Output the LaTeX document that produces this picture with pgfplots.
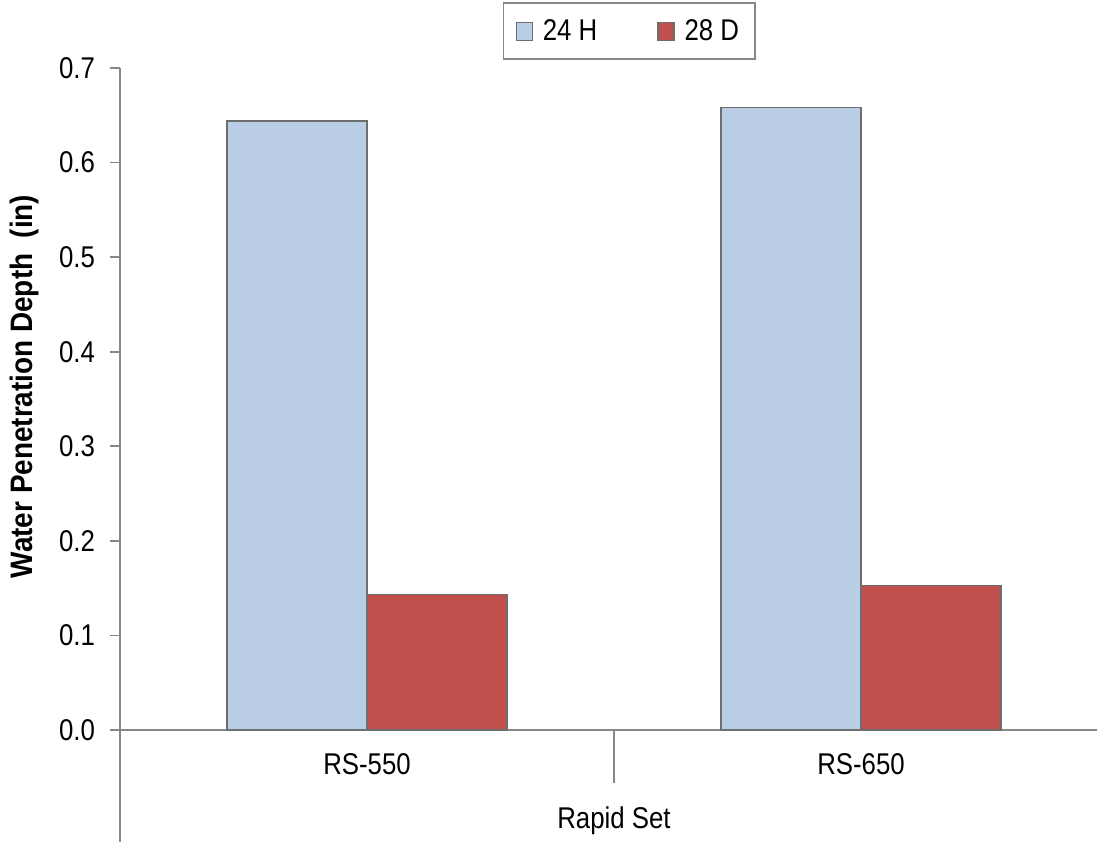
\documentclass[border=0pt]{standalone}
\usepackage{pgfplots}
\pgfplotsset{compat=1.18}
\usepackage{fontspec}
\setmainfont[FakeStretch=0.86]{Liberation Sans}
\newfontfamily\labfont[FakeStretch=0.9]{Liberation Sans}
\definecolor{axgray}{HTML}{878787}
\definecolor{barblue}{HTML}{B9CDE5}
\definecolor{barred}{HTML}{C0504D}
\definecolor{edgegray}{HTML}{6E6E6E}
\begin{document}
\begin{tikzpicture}
\begin{axis}[
  width=494pt, height=331pt, scale only axis,
  ymin=0, ymax=0.7,
  xmin=-0.5, xmax=1.5,
  axis lines*=left,
  axis line style={axgray, line width=0.8pt},
  ytick={0,0.1,0.2,0.3,0.4,0.5,0.6,0.7},
  yticklabel style={xshift=-4pt, /pgf/number format/.cd, fixed, fixed zerofill, precision=1, assume math mode=true},
  tick align=outside,
  major tick length=5pt,
  tick style={axgray, line width=0.8pt},
  xtick={0,1},
  xticklabels={RS-550,RS-650},
  x tick style={draw=none},
  xticklabel style={yshift=-3pt},
  tick label style={font=\fontsize{15}{17}\selectfont, black},
  ylabel={\labfont\bfseries Water Penetration Depth\ \ (in)},
  every axis y label/.style={at={(axis description cs:-0.097,0.519)}, rotate=90, anchor=center, font=\fontsize{15.5}{17}\selectfont},
  ybar=0pt, bar width=70pt,
  clip=false,
  legend columns=2,
  legend style={at={(rel axis cs:0.5155,1)}, anchor=south, yshift=4pt,
    draw=axgray, line width=0.8pt, font=\fontsize{15}{17}\selectfont,
    inner xsep=6pt, inner ysep=6pt,
    /tikz/every odd column/.append style={column sep=3pt},
    /tikz/every even column/.append style={column sep=28pt}},
  legend image code/.code={\draw[#1, line width=0.6pt] (0pt,-4.5pt) rectangle (8pt,4.5pt);},
]
\addplot[fill=barblue, draw=edgegray, line width=0.6pt] coordinates {(0,0.644) (1,0.658)};
\addplot[fill=barred, draw=edgegray, line width=0.6pt] coordinates {(0,0.143) (1,0.153)};
\legend{24 H, 28 D}
\draw[axgray, line width=0.8pt] (axis cs:-0.5,0) -- ([yshift=-56pt]axis cs:-0.5,0);
\draw[axgray, line width=0.8pt] (axis cs:0.5,0) -- ([yshift=-26.5pt]axis cs:0.5,0);
\node[font=\fontsize{15}{17}\selectfont] at ([yshift=-45.5pt]axis cs:0.5,0) {Rapid Set};
\coordinate (bl) at ([xshift=-60pt, yshift=-55.5pt]axis cs:-0.5,0);
\coordinate (tr) at ([xshift=488.5pt, yshift=34pt]axis cs:-0.5,0.7);
\end{axis}
\pgfresetboundingbox
\useasboundingbox (bl) rectangle (tr);
\end{tikzpicture}
\end{document}
